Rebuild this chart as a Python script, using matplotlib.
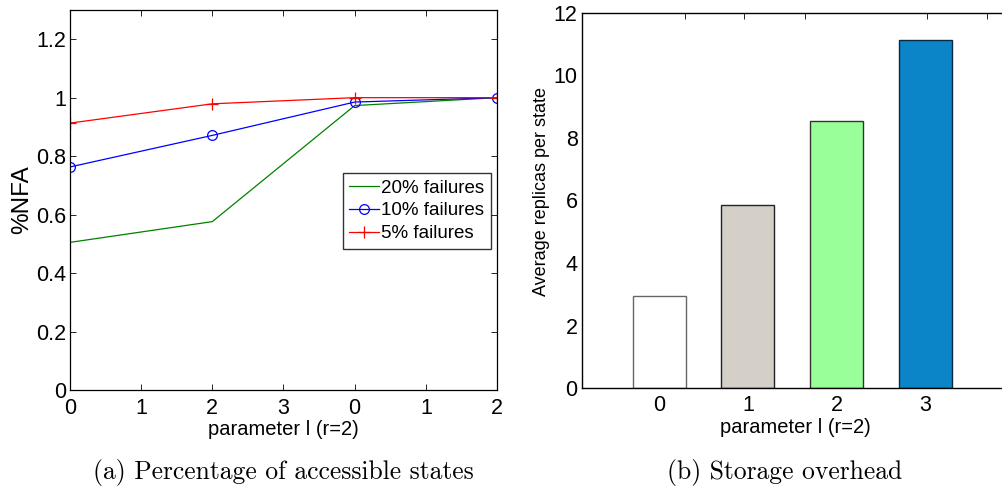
import matplotlib
matplotlib.use("Agg")
import matplotlib.pyplot as plt
import numpy as np

# %% data
pos = [0, 2, 4, 6]
xtick_labels = ["0", "1", "2", "3", "0", "1", "2"]
nfa_20 = [0.505, 0.576, 0.973, 1.0]
nfa_10 = [0.763, 0.871, 0.985, 1.0]
nfa_5 = [0.913, 0.979, 1.0, 1.0]

l_values = [0, 1, 2, 3]
replicas = [2.96, 5.86, 8.55, 11.12]
bar_colors = ["#ffffff", "#d4d0c8", "#99ff99", "#0b84c8"]

plt.rcParams["font.family"] = ["Liberation Sans", "DejaVu Sans"]

fig = plt.figure(figsize=(10.03, 4.91), dpi=100)

# %% (a) percentage of accessible states
ax1 = fig.add_axes([0.0698, 0.2057, 0.4257, 0.774])
ax1.plot(pos, nfa_20, color="#008000", lw=0.9, label="20% failures")
ax1.plot(pos, nfa_10, color="#0000ff", lw=0.9, marker="o", ms=7,
         mfc="none", mew=0.9, label="10% failures")
ax1.plot(pos, nfa_5, color="#ff0000", lw=0.9, marker="+", ms=8,
         mew=0.9, label="5% failures")
ax1.set_xlim(0, 6)
ax1.set_ylim(0, 1.3)
ax1.set_xticks(np.arange(7))
ax1.set_xticklabels(xtick_labels)
ax1.set_yticks([0, 0.2, 0.4, 0.6, 0.8, 1.0, 1.2])
ax1.set_yticklabels(["0", "0.2", "0.4", "0.6", "0.8", "1", "1.2"])
ax1.tick_params(direction="in", top=True, right=True, labelsize=15.5,
                length=4, width=0.6)
ax1.tick_params(axis="x", pad=6)
ax1.tick_params(axis="y", pad=3)
for s in ax1.spines.values():
    s.set_linewidth(0.9)
ax1.set_ylabel("%NFA", fontsize=17.5, labelpad=2)
ax1.set_xlabel("parameter l (r=2)", fontsize=14.5, va="center")
ax1.xaxis.set_label_coords(0.4988, -0.105)
leg = ax1.legend(loc="upper left", bbox_to_anchor=(0.639, 0.571), fontsize=13.5,
                 frameon=True, fancybox=False, edgecolor="black",
                 handlelength=1.6, handletextpad=0.1, labelspacing=0.3,
                 borderpad=0.35, borderaxespad=0)
leg.get_frame().set_linewidth(1.0)

# %% (b) storage overhead
ax2 = fig.add_axes([0.58, 0.2092, 0.4218, 0.765])
ax2.bar(l_values, replicas, width=0.6, color=bar_colors,
        edgecolor=["#666666", "#222222", "#333333", "#0a2a40"], linewidth=1.0)
ax2.set_xlim(-0.876, 3.9)
ax2.set_ylim(0, 12)
ax2.set_xticks(l_values)
ax2.set_yticks(np.arange(0, 13, 2))
ax2.tick_params(axis="x", length=0, labelsize=15.5, pad=5)
ax2.tick_params(axis="y", length=0, labelsize=15.5, pad=3)
ax2.set_xticks([0.29, 0.96, 1.65, 2.0, 3.02, 3.70], minor=True)
ax2.tick_params(axis="x", which="minor", direction="in", top=True, bottom=False,
                length=4, width=0.6)
ax2.spines["right"].set_visible(False)
for s in ax2.spines.values():
    s.set_linewidth(1.0)
ax2.set_ylabel("Average replicas per state", fontsize=13, va="center")
ax2.yaxis.set_label_coords(-0.0946, 0.5226)
ax2.set_xlabel("parameter l (r=2)", fontsize=14.5, va="center")
ax2.xaxis.set_label_coords(0.504, -0.104)

# %% captions
fig.text(0.2827, 0.037, "(a) Percentage of accessible states", family="cmr10",
         fontsize=18.4, ha="center", va="center")
fig.text(0.7827, 0.037, "(b) Storage overhead", family="cmr10",
         fontsize=18.4, ha="center", va="center")

fig.savefig("out.png", dpi=100)
